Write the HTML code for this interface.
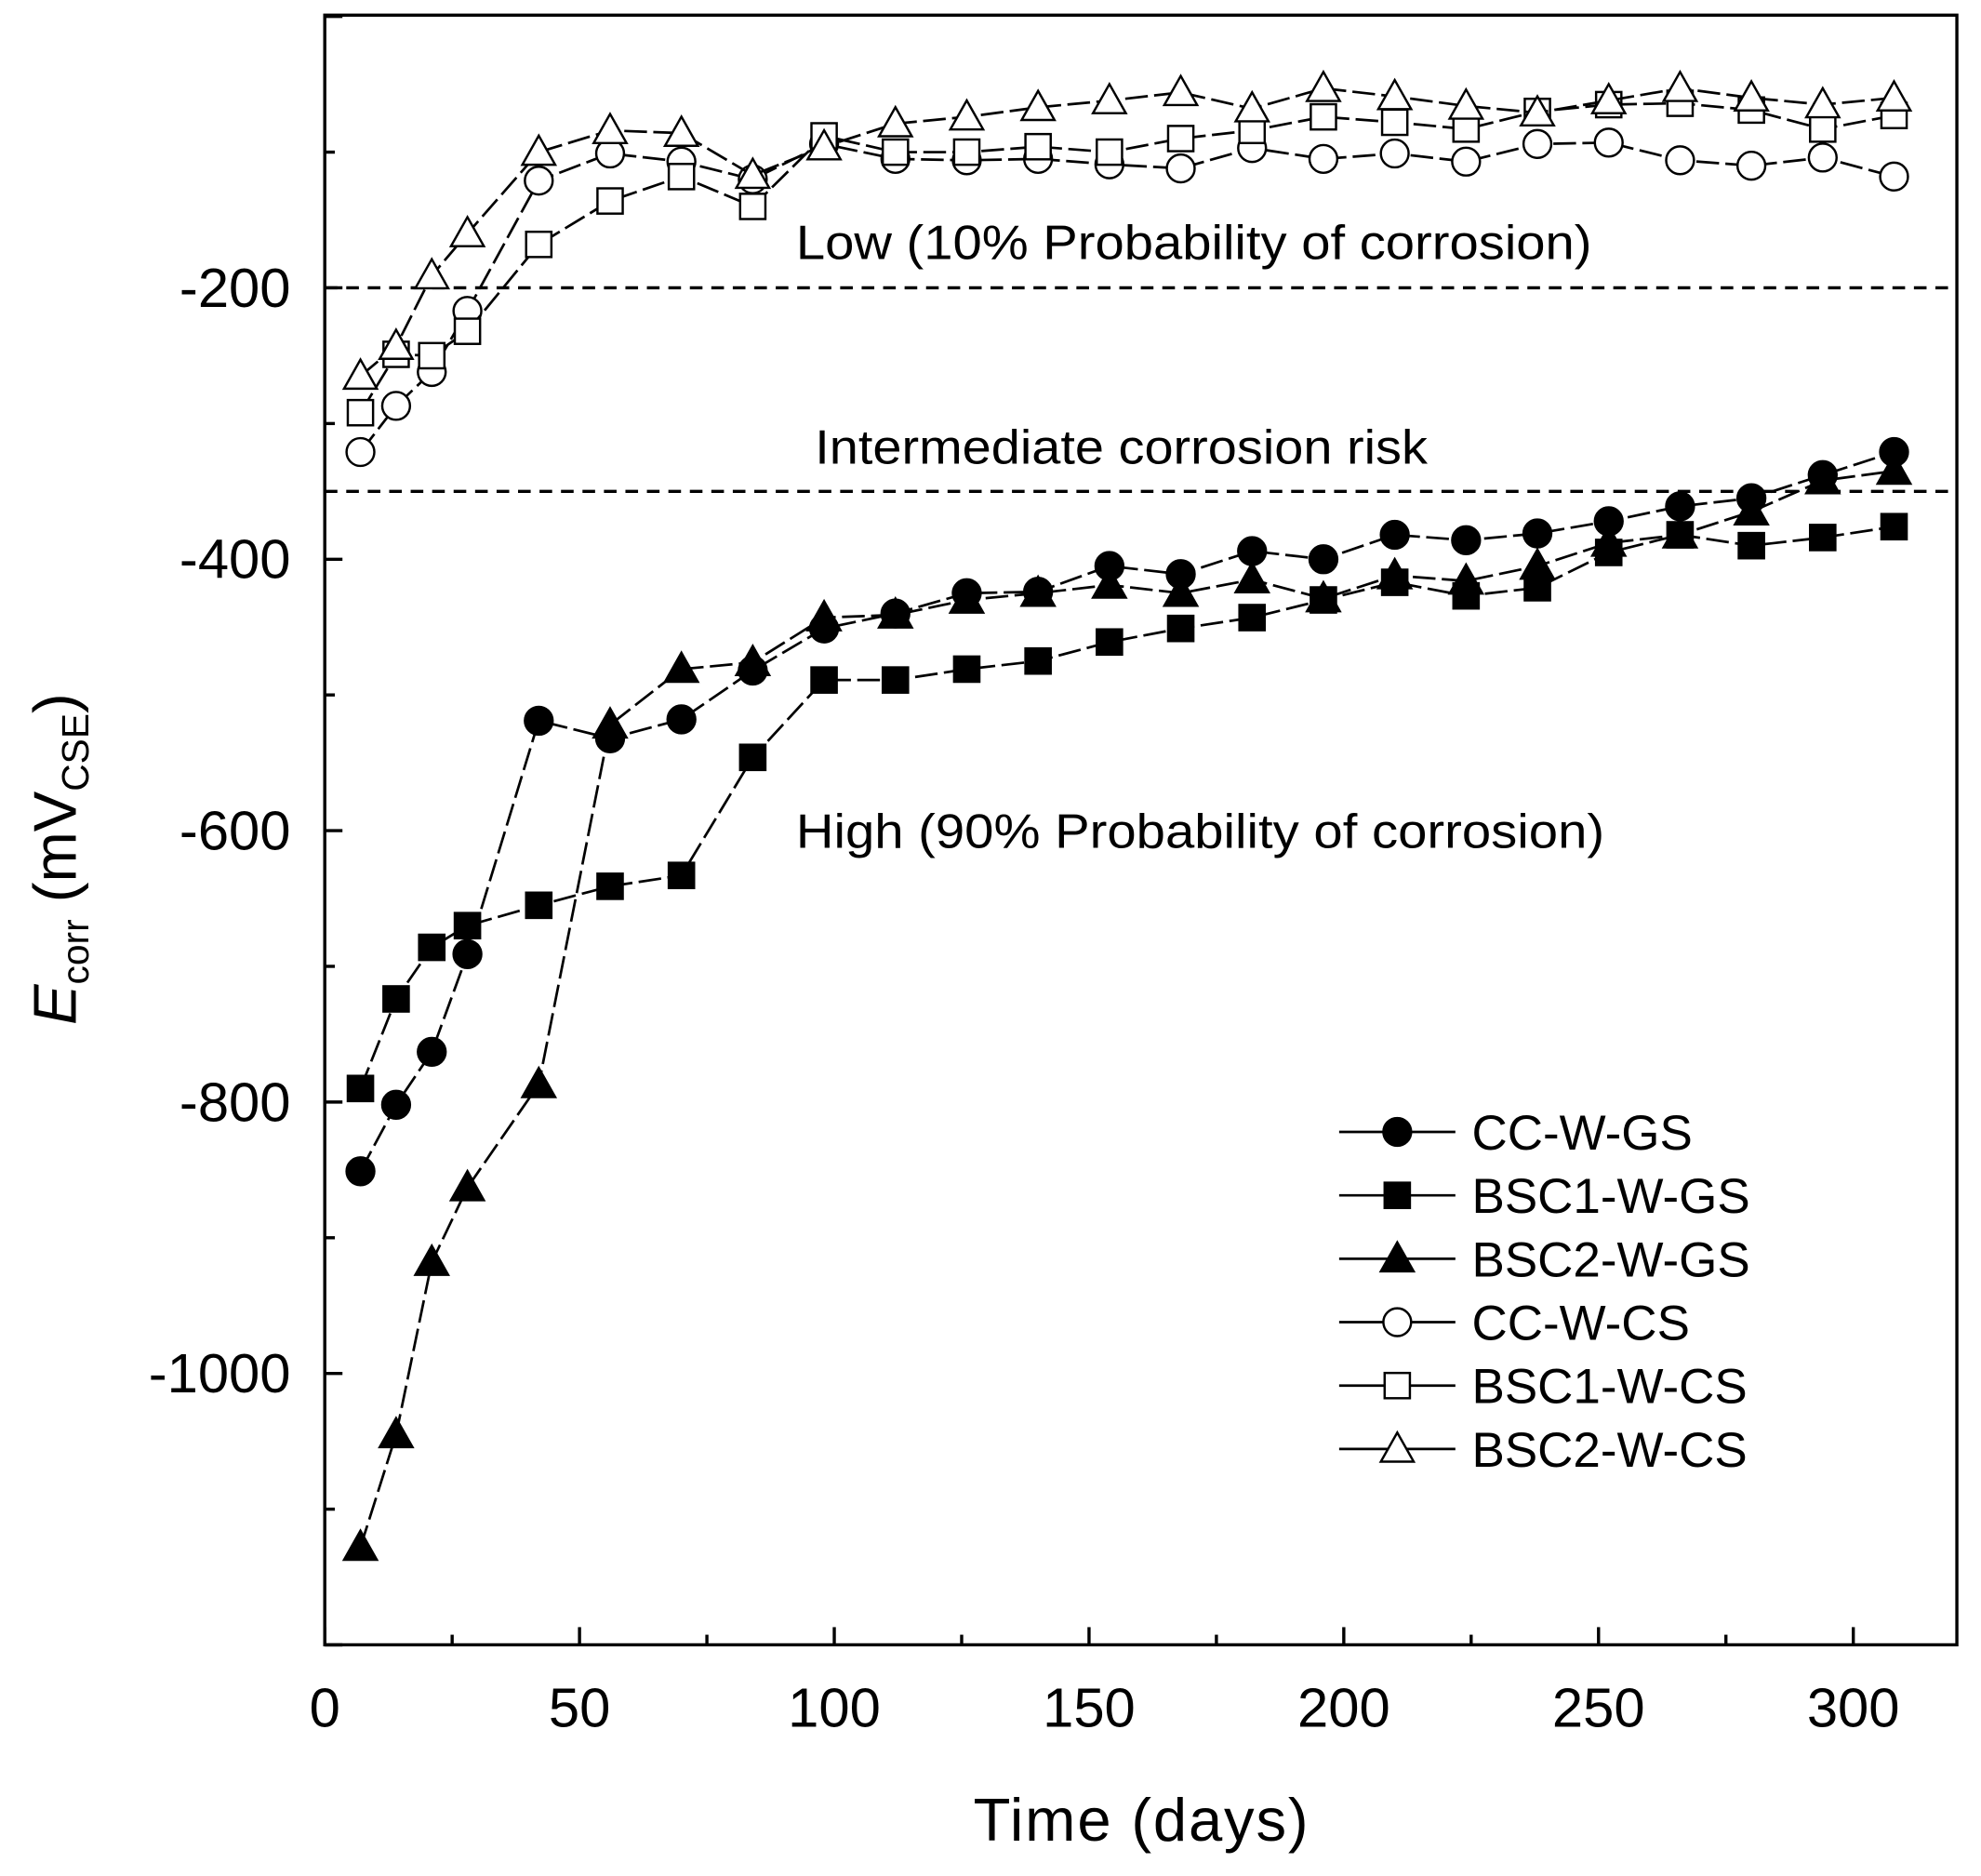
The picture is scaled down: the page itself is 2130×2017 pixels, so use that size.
<!DOCTYPE html>
<html><head><meta charset="utf-8"><style>
html,body{margin:0;padding:0;background:#fff;}
svg{display:block;font-family:"Liberation Sans",sans-serif;}
</style></head><body>
<svg id="chart" width="2130" height="2017" viewBox="0 0 1568 1485" xmlns="http://www.w3.org/2000/svg">
<rect x="0" y="0" width="1568" height="1485" fill="#fff"/>
<g id="grid"></g>
<g id="axes"></g>
<g id="series"></g>
<g id="legend"></g>
</svg>
<script>
const days = [7,14,21,28,42,56,70,84,98,112,126,140,154,168,182,196,210,224,238,252,266,280,294,308];
const ccGS = [-851,-802,-763,-691,-519,-532,-518,-482,-451,-440,-425,-424,-405,-411,-394,-400,-382,-386,-381,-372,-361,-355,-338,-321];
const bsc1GS = [-790,-724,-686,-670,-655,-641,-633,-546,-489,-489,-481,-475,-461,-451,-443,-430,-417,-427,-421,-395,-382,-390,-384,-376];
const bsc2GS = [-1128,-1045,-918,-863,-787,-522,-481,-476,-443,-441,-430,-425,-419,-425,-415,-429,-412,-416,-405,-388,-382,-365,-342,-335];
const ccCS = [-321,-287,-262,-217,-121,-101,-107,-120,-94,-105,-106,-105,-109,-112,-97,-105,-101,-107,-94,-93,-106,-110,-104,-118];
const bsc1CS = [-292,-249,-250,-232,-168,-136,-118,-140,-88,-100,-100,-96,-100,-90,-84,-74,-78,-83,-70,-65,-64,-69,-83,-73];
const bsc2CS = [-265,-243,-191,-160,-100,-84,-86,-117,-96,-79,-74,-67,-62,-56,-68,-53,-59,-66,-71,-62,-53,-60,-65,-60];
const xTicks = [0,50,100,150,200,250,300];
const yTicks = [-1000,-800,-600,-400,-200];
const seriesNames = ["CC-W-GS","BSC1-W-GS","BSC2-W-GS","CC-W-CS","BSC1-W-CS","BSC2-W-CS"];

const NS="http://www.w3.org/2000/svg";
const L=257,R=1549,T=12,B=1302;
const xs=d=>257+d*(1467-257)/300;
const ys=v=>13-v*1.0742;
function mk(tag,attrs,parent){const e=document.createElementNS(NS,tag);for(const k in attrs)e.setAttribute(k,attrs[k]);parent.appendChild(e);return e;}
const axes=document.getElementById('axes');
const grid=document.getElementById('grid');

[[-200,'low-threshold-line'],[-350,'high-threshold-line']].forEach(([v,n])=>{
  const l=mk('line',{x1:L,x2:R,y1:ys(v),y2:ys(v),stroke:'#000','stroke-width':2.5,'stroke-dasharray':'10,7'},grid);
  
  
});
const frame=mk('rect',{x:L,y:T,width:R-L,height:B-T,fill:'none',stroke:'#000','stroke-width':2.5},axes);


for(let d=0;d<=325;d+=25){const x=xs(d);if(x>R)break;mk('line',{x1:x,x2:x,y1:B,y2:B-(d%50?8:14),stroke:'#000','stroke-width':2.5},axes);}
for(let v=-1200;v<=0;v+=100){const y=ys(v);mk('line',{x1:L,x2:L+(v%200?8:14),y1:y,y2:y,stroke:'#000','stroke-width':2.5},axes);}
xTicks.forEach(t=>{const e=mk('text',{x:xs(t),y:1367,'font-size':44,'text-anchor':'middle'},axes);e.textContent=t;
  
  });
yTicks.forEach(t=>{const e=mk('text',{x:230,y:ys(t)+15,'font-size':44,'text-anchor':'end'},axes);e.textContent=t;
  
  });
const xt=mk('text',{x:903,y:1457,'font-size':48,'text-anchor':'middle',textLength:265},axes);xt.textContent='Time (days)';


const yt=mk('text',{transform:'translate(60,680) rotate(-90)','font-size':48,'text-anchor':'middle'},axes);
yt.innerHTML='<tspan font-style="italic">E</tspan><tspan font-size="30" dy="10">corr</tspan><tspan dy="-10"> (mV</tspan><tspan font-size="30" dy="10">CSE</tspan><tspan dy="-10">)</tspan>';


[['Low (10% Probability of corrosion)',630,205,630,'low-risk-label'],['Intermediate corrosion risk',645,367,485,'intermediate-risk-label'],['High (90% Probability of corrosion)',630,671,640,'high-risk-label']].forEach(([s,x,y,w,n])=>{
  const e=mk('text',{x:x,y:y,'font-size':38,textLength:w,lengthAdjust:'spacingAndGlyphs'},axes);e.textContent=s;
  
  });

function marker(type,fill,x,y,parent){
  const st={fill:fill,stroke:'#000','stroke-width':1.8};
  if(type==='c')return mk('circle',Object.assign({cx:x,cy:y,r:11},st),parent);
  if(type==='s')return mk('rect',Object.assign({x:x-10,y:y-10,width:20,height:20},st),parent);
  return mk('polygon',Object.assign({points:`${x},${y-13} ${x+13},${y+10} ${x-13},${y+10}`},st),parent);
}
const seriesData=[ccGS,bsc1GS,bsc2GS,ccCS,bsc1CS,bsc2CS];
const types=['c','s','t','c','s','t'];
const fills=['#000','#000','#000','#fff','#fff','#fff'];
const sg=document.getElementById('series');
seriesData.forEach((vals,i)=>{
  const g=mk('g',{},sg);
  
  
  mk('polyline',{points:vals.map((v,j)=>xs(days[j])+','+ys(v)).join(' '),fill:'none',stroke:'#000','stroke-width':2,'stroke-dasharray':'18,5'},g);
  vals.forEach((v,j)=>{const m=marker(types[i],fills[i],xs(days[j]),ys(v),g);
    
    });
});
const lg=document.getElementById('legend');


seriesNames.forEach((n,i)=>{
  const y=896+i*50.2;
  const g=mk('g',{},lg);
  
  
  mk('line',{x1:1060,x2:1152,y1:y,y2:y,stroke:'#000','stroke-width':2},g);
  marker(types[i],fills[i],1106,y,g);
  const t=mk('text',{x:1165,y:y+14,'font-size':39},g);t.textContent=n;
});
</script>
</body></html>
